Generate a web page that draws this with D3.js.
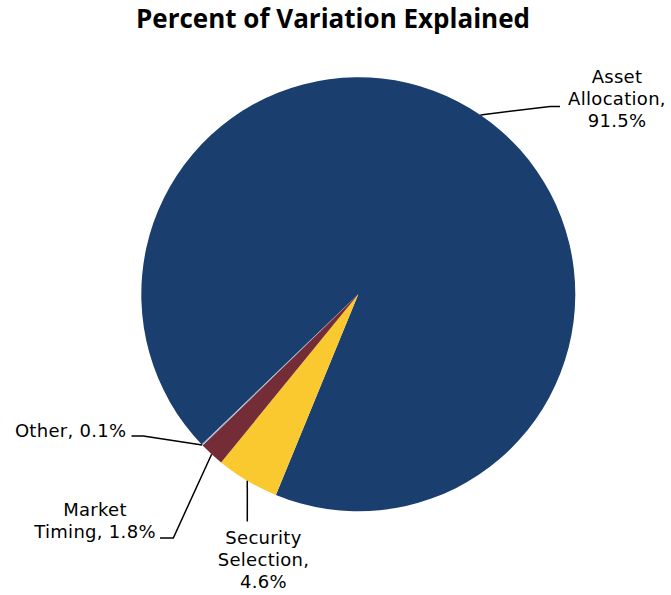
<!DOCTYPE html>
<html>
<head>
<meta charset="utf-8">
<script src="https://cdn.jsdelivr.net/npm/d3@7/dist/d3.min.js"></script>
<style>
  body { margin: 0; background: #fff; }
  .title { font-family: "Open Sans", sans-serif; font-weight: bold; font-size: 26px; }
  .lbl { font-family: "DejaVu Sans", sans-serif; font-size: 18px; letter-spacing: 0.3px; fill: #000; }
  .leader { fill: none; stroke: #000; stroke-width: 1.5; }
</style>
</head>
<body>
<div id="chart"></div>
<script>
// slice data, clockwise from Excel's first-slice angle
const categories = ["Asset Allocation", "Security Selection", "Market Timing", "Other"];
const values = [91.5, 4.6, 1.8, 0.1];
const labelLines = [["Asset", "Allocation,", "91.5%"], ["Security", "Selection,", "4.6%"], ["Market", "Timing, 1.8%"], ["Other, 0.1%"]];
const colors = ["#1a3e6e", "#fac82f", "#742c37", "#a3b4cc"];

const width = 671, height = 595;
const cx = 358.3, cy = 294.3, radius = 217;
const startDeg = 226.2;

const svg = d3.select("#chart").append("svg")
    .attr("width", width)
    .attr("height", height);

svg.append("text")
    .attr("class", "title")
    .attr("x", 333).attr("y", 27.5)
    .attr("text-anchor", "middle")
    .text("Percent of Variation Explained");

const pie = d3.pie().sort(null).value(function (d) { return d; })
    .startAngle(startDeg * Math.PI / 180)
    .endAngle(startDeg * Math.PI / 180 + 2 * Math.PI);
const arcs = pie(values);
const arc = d3.arc().innerRadius(0).outerRadius(radius);

const g = svg.append("g").attr("transform", "translate(" + cx + "," + cy + ")");

g.selectAll("path.slice")
    .data(arcs)
    .enter().append("path")
    .attr("class", "slice")
    .attr("d", arc)
    .attr("fill", function (d, i) { return colors[i]; });

// label layout: text anchor, first baseline, and the elbow of each leader line
const layout = [
    {x: 617, y: 82.5, anchor: "middle", elbow: [[550, 106.5], [560, 106.5]]},
    {x: 263.5, y: 544, anchor: "middle", elbow: [[247.3, 521.5]]},
    {x: 95, y: 516, anchor: "middle", elbow: [[173.3, 538], [160, 538]]},
    {x: 126.5, y: 436.5, anchor: "end", elbow: [[143.3, 436], [131.5, 436]]}
];
const lineHeight = 22;

function edgePoint(d) {
    const a = (d.startAngle + d.endAngle) / 2;
    return [cx + radius * Math.sin(a), cy - radius * Math.cos(a)];
}

const line = d3.line();

arcs.forEach(function (d, i) {
    const L = layout[i];
    svg.append("path")
        .attr("class", "leader")
        .attr("d", line([edgePoint(d)].concat(L.elbow)));
    const t = svg.append("text")
        .attr("class", "lbl")
        .attr("text-anchor", L.anchor);
    labelLines[i].forEach(function (s, k) {
        t.append("tspan")
            .attr("x", L.x)
            .attr("y", L.y + k * lineHeight)
            .text(s);
    });
});
</script>
</body>
</html>
